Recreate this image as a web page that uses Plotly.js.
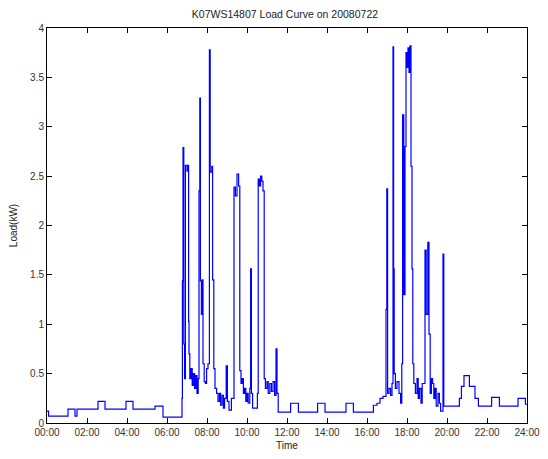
<!DOCTYPE html>
<html>
<head>
<meta charset="utf-8">
<script src="https://cdn.plot.ly/plotly-3.0.1.min.js"></script>
<style>
html,body{margin:0;padding:0;background:#fff;}
#chart{width:548px;height:459px;}
</style>
</head>
<body>
<div id="chart"></div>
<script>
// Time in hours (decimal), load in kW (held until the next reading)
const timeHours = [
  0.00, 0.08, 1.05, 1.40, 1.50, 2.55, 2.90, 3.95, 4.30, 5.40, 5.80,
  6.75, 6.77, 6.80, 6.84, 6.88, 6.92, 7.00, 7.05, 7.08, 7.10, 7.14, 7.20, 7.26, 7.32, 7.38, 7.44, 7.50, 7.56,
  7.60, 7.64, 7.67, 7.72, 7.76, 7.80, 7.86, 7.92, 7.98, 8.05, 8.12, 8.16, 8.24, 8.28, 8.34, 8.40, 8.48,
  8.55, 8.62, 8.68, 8.75, 8.82, 8.88, 8.96, 9.02, 9.10, 9.22, 9.35, 9.42, 9.50, 9.58, 9.64, 9.70, 9.76,
  9.82, 9.88, 9.94, 10.00, 10.06, 10.14, 10.18, 10.22, 10.28, 10.52, 10.56, 10.62, 10.68, 10.74, 10.80,
  10.86, 10.92, 11.00, 11.06, 11.14, 11.22, 11.30, 11.38, 11.45, 11.50, 11.56,
  12.18, 12.57, 13.53, 13.90, 14.95, 15.32, 16.32, 16.50, 16.65, 16.80, 16.95, 16.99, 17.03, 17.10,
  17.18, 17.25, 17.30, 17.33, 17.36, 17.42, 17.50, 17.60, 17.68, 17.74, 17.78, 17.84, 17.90, 17.95,
  18.00, 18.05, 18.10, 18.15, 18.20, 18.25, 18.29, 18.34, 18.42, 18.50, 18.56, 18.62, 18.70, 18.76,
  18.80, 18.90, 18.96, 19.04, 19.10, 19.16, 19.22, 19.28, 19.34, 19.40, 19.46, 19.55, 19.62, 19.68,
  19.80, 19.84, 20.62, 20.72, 20.85, 21.12, 21.40, 21.57, 22.23, 22.62, 23.55, 23.92, 24.00
];
const loadKW = [
  0.12, 0.07, 0.14, 0.07, 0.14, 0.22, 0.14, 0.22, 0.14, 0.17, 0.06,
  0.25, 1.44, 2.79, 0.80, 0.45, 2.61, 2.55, 2.61, 1.03, 0.70, 0.45, 0.55, 0.38, 0.50, 0.35, 0.48, 0.30, 0.45,
  2.35, 3.29, 1.44, 1.10, 1.45, 0.60, 0.42, 0.40, 0.55, 0.60, 3.78, 2.54, 2.60, 1.45, 0.55, 0.35, 0.30,
  0.22, 0.30, 0.18, 0.28, 0.15, 0.25, 0.58, 0.22, 0.13, 0.25, 2.39, 2.30, 2.52, 2.40, 0.53, 0.40, 0.45,
  0.30, 0.35, 0.22, 0.30, 0.20, 0.35, 1.56, 0.30, 0.15, 0.30, 2.47, 2.40, 2.50, 2.45, 2.35,
  0.45, 0.35, 0.42, 0.30, 0.40, 0.32, 0.42, 0.28, 0.75, 0.30, 0.11,
  0.20, 0.11, 0.20, 0.11, 0.20, 0.11, 0.18, 0.20, 0.25, 0.27, 1.15, 2.37, 0.30, 0.35,
  0.28, 0.40, 3.81, 1.56, 0.50, 0.35, 0.42, 0.30, 0.20, 0.60, 3.12, 1.30, 2.80, 3.75,
  3.60, 3.80, 3.55, 3.82, 2.60, 1.56, 0.60, 0.40, 0.30, 0.45, 0.25, 0.35, 0.20, 0.40,
  0.40, 1.75, 1.10, 1.83, 0.90, 0.30, 0.45, 0.40, 0.25, 0.35, 0.17, 0.30, 0.20, 0.12,
  1.71, 0.17, 0.25, 0.37, 0.48, 0.37, 0.25, 0.17, 0.26, 0.17, 0.25, 0.19, 0.19
];
const xTickVals = [0, 2, 4, 6, 8, 10, 12, 14, 16, 18, 20, 22, 24];
const xTickText = ["00:00", "02:00", "04:00", "06:00", "08:00", "10:00", "12:00",
                   "14:00", "16:00", "18:00", "20:00", "22:00", "24:00"];
const yTickVals = [0, 0.5, 1, 1.5, 2, 2.5, 3, 3.5, 4];
const chartTitle = "K07WS14807 Load Curve on 20080722";
const xTitle = "Time";
const yTitle = "Load(kW)";

const font = {family: "Liberation Sans, Arial, sans-serif", size: 10, color: "#333"};

const trace = {
  x: timeHours,
  y: loadKW,
  type: "scatter",
  mode: "lines",
  line: {color: "#0000ff", width: 1.2, shape: "hv"},
  hoverinfo: "x+y"
};

const axisCommon = {
  showline: true, linecolor: "#000", linewidth: 1, mirror: "ticks",
  ticks: "inside", ticklen: 5, tickcolor: "#000", tickwidth: 1,
  showgrid: false, zeroline: false, tickfont: font
};

const layout = {
  width: 548, height: 459,
  margin: {l: 47, r: 21, t: 28, b: 36},
  paper_bgcolor: "#fff", plot_bgcolor: "#fff",
  showlegend: false,
  font: font,
  title: {text: chartTitle, font: {family: font.family, size: 10.5, color: "#222"},
          x: 0.52, xanchor: "center", y: 1 - 14/459, yanchor: "middle", yref: "container"},
  xaxis: Object.assign({}, axisCommon, {
    range: [0, 24], tickvals: xTickVals, ticktext: xTickText,
    title: {text: xTitle, font: {family: font.family, size: 10, color: "#222"}, standoff: 4}
  }),
  yaxis: Object.assign({}, axisCommon, {
    range: [0, 4], tickvals: yTickVals,
    title: {text: yTitle, font: {family: font.family, size: 10, color: "#222"}, standoff: 10}
  })
};

Plotly.newPlot("chart", [trace], layout, {displayModeBar: false, staticPlot: true});
</script>
</body>
</html>
